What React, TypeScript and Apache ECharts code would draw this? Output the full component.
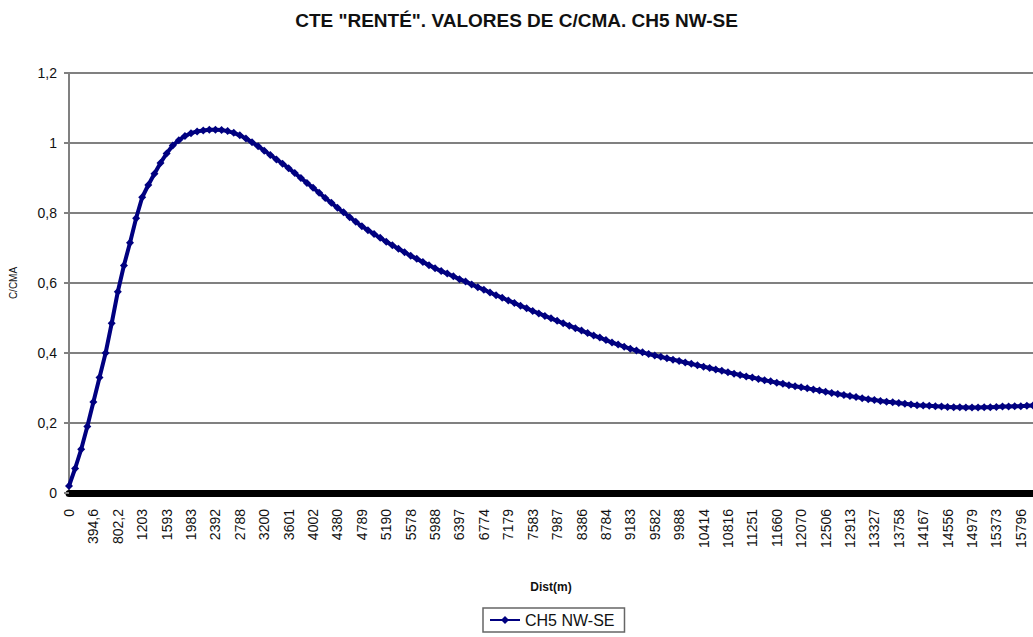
import React, { useEffect, useRef } from "react";
import * as echarts from "echarts";

const TITLE = 'CTE "RENTÉ". VALORES DE C/CMA. CH5 NW-SE';
const SERIES_NAME = "CH5 NW-SE";
const X_NAME = "Dist(m)";
const Y_NAME = "C/CMA";

// Distance labels shown on the category axis (one every 4 samples)
const TICK_LABELS = [
  "0", "394,6", "802,2", "1203", "1593", "1983", "2392", "2788", "3200", "3601",
  "4002", "4380", "4789", "5190", "5578", "5988", "6397", "6774", "7179", "7583",
  "7987", "8386", "8784", "9183", "9582", "9988", "10414", "10816", "11251", "11660",
  "12070", "12506", "12913", "13327", "13758", "14167", "14556", "14979", "15373", "15796",
];
const SAMPLES_PER_LABEL = 4;
const TRAILING_SAMPLES = 2;

// C/CMA values, 4 samples per labelled distance
const C_CMA = [
  0.02, 0.07, 0.125, 0.19,
  0.26, 0.33, 0.40, 0.485,
  0.575, 0.65, 0.715, 0.785,
  0.845, 0.88, 0.912, 0.943,
  0.97, 0.993, 1.008, 1.02,
  1.028, 1.033, 1.036, 1.038,
  1.038, 1.037, 1.034, 1.029,
  1.022, 1.013, 1.002, 0.991,
  0.978, 0.966, 0.953, 0.941,
  0.928, 0.914, 0.9, 0.886,
  0.872, 0.858, 0.843, 0.829,
  0.815, 0.802, 0.788, 0.775,
  0.762, 0.751, 0.74, 0.729,
  0.718, 0.708, 0.698, 0.688,
  0.678, 0.669, 0.66, 0.651,
  0.642, 0.634, 0.627, 0.619,
  0.611, 0.604, 0.596, 0.588,
  0.581, 0.573, 0.565, 0.558,
  0.55, 0.543, 0.535, 0.528,
  0.52, 0.513, 0.506, 0.499,
  0.492, 0.485, 0.478, 0.471,
  0.464, 0.457, 0.45, 0.444,
  0.437, 0.43, 0.424, 0.418,
  0.412, 0.407, 0.402, 0.397,
  0.393, 0.389, 0.385, 0.381,
  0.377, 0.373, 0.369, 0.365,
  0.361, 0.357, 0.353, 0.349,
  0.345, 0.341, 0.337, 0.333,
  0.33, 0.326, 0.322, 0.319,
  0.315, 0.312, 0.308, 0.305,
  0.302, 0.299, 0.296, 0.293,
  0.289, 0.286, 0.283, 0.28,
  0.277, 0.274, 0.271, 0.268,
  0.266, 0.263, 0.261, 0.259,
  0.257, 0.255, 0.253, 0.251,
  0.25, 0.249, 0.248, 0.247,
  0.246, 0.245, 0.245, 0.244,
  0.244, 0.244, 0.245, 0.245,
  0.246, 0.247, 0.247, 0.248,
  0.248, 0.249, 0.25,
];

const Y_MIN = 0;
const Y_MAX = 1.2;
const Y_STEP = 0.2;

function buildCategories(): string[] {
  const cats: string[] = [];
  TICK_LABELS.forEach((lab, i) => {
    cats.push(lab);
    if (i < TICK_LABELS.length - 1) {
      for (let k = 1; k < SAMPLES_PER_LABEL; k++) cats.push("");
    }
  });
  for (let k = 0; k < TRAILING_SAMPLES; k++) cats.push("");
  return cats;
}

const FONT = "'Liberation Sans', Arial, sans-serif";

export default function App() {
  const ref = useRef<HTMLDivElement>(null);
  useEffect(() => {
    if (!ref.current) return;
    const chart = echarts.init(ref.current, undefined, { renderer: "svg" });
    const categories = buildCategories();
    chart.setOption({
      animation: false,
      backgroundColor: "#ffffff",
      title: {
        text: TITLE,
        left: "center",
        top: 6,
        textStyle: { fontFamily: FONT, fontSize: 19, fontWeight: "bold", color: "#111" },
      },
      legend: {
        data: [SERIES_NAME],
        left: 483,
        top: 608,
        padding: [4, 10, 4, 6],
        borderColor: "#666",
        borderWidth: 1.5,
        itemWidth: 30,
        itemHeight: 10,
        itemGap: 5,
        textStyle: { fontFamily: FONT, fontSize: 16, color: "#111" },
      },
      grid: { left: 69, right: 0, top: 73, bottom: 144, containLabel: false },
      xAxis: {
        type: "category",
        data: categories,
        boundaryGap: false,
        name: X_NAME,
        nameLocation: "middle",
        nameGap: 88,
        nameTextStyle: { fontFamily: FONT, fontSize: 12, fontWeight: "bold", color: "#111" },
        axisLine: { show: true, lineStyle: { color: "#000", width: 7 } },
        axisTick: { show: false },
        axisLabel: {
          interval: SAMPLES_PER_LABEL - 1,
          rotate: 90,
          margin: 16,
          fontFamily: FONT,
          fontSize: 14,
          color: "#111",
        },
        splitLine: { show: false },
      },
      yAxis: {
        type: "value",
        min: Y_MIN,
        max: Y_MAX,
        interval: Y_STEP,
        name: Y_NAME,
        nameLocation: "middle",
        nameGap: 51,
        nameRotate: 90,
        nameTextStyle: { fontFamily: FONT, fontSize: 10, color: "#111" },
        axisLine: { show: true, lineStyle: { color: "#808080", width: 2 } },
        axisTick: { show: true, length: 5, lineStyle: { color: "#808080", width: 2 } },
        axisLabel: {
          margin: 12,
          fontFamily: FONT,
          fontSize: 14,
          color: "#111",
          formatter: (v: number) => String(Math.round(v * 10) / 10).replace(".", ","),
        },
        splitLine: { show: true, lineStyle: { color: "#808080", width: 2 } },
      },
      series: [
        {
          name: SERIES_NAME,
          type: "line",
          data: C_CMA,
          symbol: "diamond",
          symbolSize: 8,
          showAllSymbol: true,
          itemStyle: { color: "#000080" },
          lineStyle: { color: "#000080", width: 4 },
        },
      ],
    });
    return () => chart.dispose();
  }, []);
  return (
    <div
      ref={ref}
      style={{ position: "fixed", left: 0, top: 0, width: 1033, height: 637, background: "#fff" }}
    />
  );
}
